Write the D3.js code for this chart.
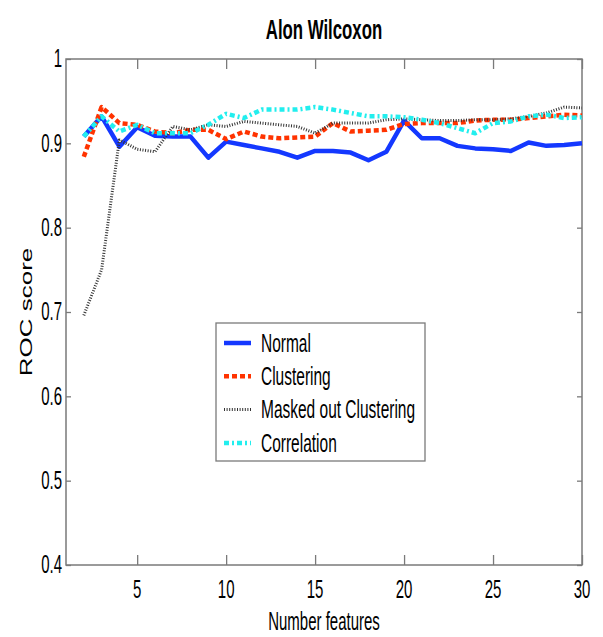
<!DOCTYPE html>
<html>
<head>
<meta charset="utf-8">
<script src="https://cdn.jsdelivr.net/npm/d3@7"></script>
<style>
  html, body { margin: 0; padding: 0; background: #fff; }
  text { font-family: "Liberation Sans", Arial, Helvetica, sans-serif; fill: #000; }
</style>
</head>
<body>
<svg id="chart" width="603" height="637"></svg>
<script>
// ---- data ----
const features = [2,3,4,5,6,7,8,9,10,11,12,13,14,15,16,17,18,19,20,21,22,23,24,25,26,27,28,29,30];
const normal = [0.908,0.932,0.896,0.919,0.909,0.908,0.908,0.883,0.902,
                0.898,0.894,0.890,0.883,0.891,0.891,0.889,0.880,0.890,0.927,
                0.906,0.906,0.897,0.894,0.893,0.891,0.901,0.897,0.898,0.900];
const clustering = [0.884,0.943,0.924,0.922,0.914,0.912,0.916,0.916,0.905,
                    0.914,0.908,0.906,0.907,0.908,0.924,0.914,0.915,0.916,0.923,
                    0.924,0.924,0.924,0.927,0.928,0.928,0.930,0.932,0.934,0.933];
const masked = [0.696,0.750,0.904,0.893,0.890,0.920,0.916,0.922,0.920,
                0.926,0.924,0.922,0.920,0.912,0.924,0.924,0.924,0.928,0.929,
                0.928,0.927,0.927,0.928,0.928,0.929,0.932,0.936,0.943,0.942];
const correlation = [0.908,0.932,0.914,0.922,0.912,0.912,0.912,0.922,0.935,
                     0.930,0.940,0.940,0.940,0.943,0.940,0.936,0.932,0.932,0.931,
                     0.928,0.924,0.918,0.912,0.924,0.926,0.932,0.934,0.930,0.931];
const seriesNames = ["Normal","Clustering","Masked out Clustering","Correlation"];
const xTicks = [5,10,15,20,25,30];
const yTicks = [0.4,0.5,0.6,0.7,0.8,0.9,1];
const yTickLabels = ["0.4","0.5","0.6","0.7","0.8","0.9","1"];
const titleText = "Alon Wilcoxon";
const xLabel = "Number features";
const yLabel = "ROC score";

// ---- layout ----
const L = 66, R = 582, T = 59, B = 565;
const SX = 0.6; // horizontal squash of the original figure's text
const svg = d3.select("#chart");
const x = d3.scaleLinear().domain([1,30]).range([L,R]);
const y = d3.scaleLinear().domain([0.4,1]).range([B,T]);

const styles = [
  {color:"#1438ff", width:4.5, dash:null},
  {color:"#ff3300", width:4.5, dash:"5,3"},
  {color:"#333333", width:3,   dash:"1,1.6"},
  {color:"#22eeee", width:4.5, dash:"5,3,2,3"}
];
const allSeries = [normal, clustering, masked, correlation];

function squashText(sel, tx, ty, sx) {
  return sel.attr("transform", `translate(${tx},${ty}) scale(${sx},1)`);
}

// axes box
const axisColor = "#7a7a7a";
svg.append("rect").attr("x",L).attr("y",T).attr("width",R-L).attr("height",B-T)
  .attr("fill","none").attr("stroke",axisColor).attr("stroke-width",1.5);

// ticks on all four sides, inward
const gxb = svg.append("g").attr("transform",`translate(0,${B})`)
  .call(d3.axisBottom(x).tickValues(xTicks).tickSizeInner(-10).tickSizeOuter(0).tickFormat(""));
const gxt = svg.append("g").attr("transform",`translate(0,${T})`)
  .call(d3.axisTop(x).tickValues(xTicks).tickSizeInner(-10).tickSizeOuter(0).tickFormat(""));
const gyl = svg.append("g").attr("transform",`translate(${L},0)`)
  .call(d3.axisLeft(y).tickValues(yTicks).tickSizeInner(-5).tickSizeOuter(0).tickFormat(""));
const gyr = svg.append("g").attr("transform",`translate(${R},0)`)
  .call(d3.axisRight(y).tickValues(yTicks).tickSizeInner(-5).tickSizeOuter(0).tickFormat(""));
[gxb,gxt,gyl,gyr].forEach(g => {
  g.select(".domain").remove();
  g.selectAll(".tick line").attr("stroke",axisColor).attr("stroke-width",1.3);
});

// tick labels
xTicks.forEach(v => {
  squashText(svg.append("text").text(String(v)).attr("text-anchor","middle")
    .attr("font-size",25), x(v), 598, SX);
});
yTicks.forEach((v,i) => {
  squashText(svg.append("text").text(yTickLabels[i]).attr("text-anchor","end")
    .attr("font-size",25).attr("dy","0.33em"), 62, y(v), SX);
});

// lines
const line = d3.line().x((d,i) => x(features[i])).y(d => y(d));
allSeries.forEach((s,k) => {
  const st = styles[k];
  const p = svg.append("path").datum(s).attr("d", line)
    .attr("fill","none").attr("stroke",st.color).attr("stroke-width",st.width)
    .attr("stroke-linejoin","round");
  if (st.dash) p.attr("stroke-dasharray", st.dash);
});

// title and labels
squashText(svg.append("text").text(titleText).attr("text-anchor","middle")
  .attr("font-size",28).attr("font-weight","bold"), (L+R)/2, 39, 0.6);
squashText(svg.append("text").text(xLabel).attr("text-anchor","middle")
  .attr("font-size",25), (L+R)/2, 630, SX);
svg.append("text").text(yLabel).attr("text-anchor","middle").attr("font-size",26)
  .attr("transform", `translate(32,${(T+B)/2}) scale(${SX},1) rotate(-90)`);

// legend
const lg = svg.append("g");
lg.append("rect").attr("x",216).attr("y",323).attr("width",209).attr("height",138)
  .attr("fill","#fff").attr("stroke",axisColor).attr("stroke-width",1.3);
seriesNames.forEach((name,k) => {
  const yy = 343 + k*33.3;
  const st = styles[k];
  const l = lg.append("line").attr("x1",224).attr("x2",251).attr("y1",yy).attr("y2",yy)
    .attr("stroke",st.color).attr("stroke-width",st.width);
  if (st.dash) l.attr("stroke-dasharray", st.dash);
  squashText(lg.append("text").text(name).attr("font-size",25).attr("dy","0.35em"), 261, yy, 0.62);
});
</script>
</body>
</html>
